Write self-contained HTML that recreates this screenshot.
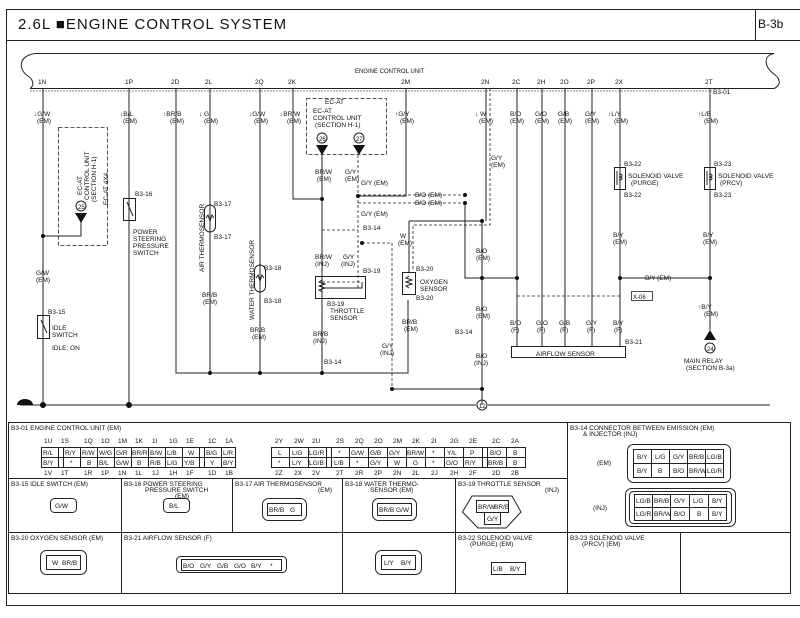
<!DOCTYPE html>
<html><head><meta charset="utf-8"><style>
html,body{margin:0;padding:0;background:#fff;}
svg{display:block;}
text{font-family:"Liberation Sans",sans-serif;font-size:6.5px;fill:#111;}
.t{font-size:7px;}
.s{font-size:6px;}
</style></head><body>
<svg width="800" height="618" viewBox="0 0 800 618" xmlns="http://www.w3.org/2000/svg">
<g fill="none" stroke="#222" stroke-width="1">
<rect x="6.5" y="9.5" width="800" height="596"/>
<line x1="6" y1="40.5" x2="800" y2="40.5"/>
<line x1="755.5" y1="9" x2="755.5" y2="40"/>
<path d="M36 53.5 H774 M36 53.5 C18 55 18 70 28 76 C34 80 34 86 30 88.5 M30 88.5 H774 M774 53.5 C762 56 765 68 774 74 C782 80 780 86 774 88.5"/>
<line x1="30" y1="91" x2="712" y2="91" stroke-dasharray="2,1" stroke="#888"/>
<path d="M43 88V405 M43 236H81V218 M129 88V405 M176 88V373H408V300 M210 88V373 M260 88V373 M293 88V199H322 M322 150V373 M406 88V196H358 M482 221V405 M465 203V278H517 M517 88V346 M542 88V346 M565 88V346 M592 88V346 M620 88V346 M620 278H710 M710 88V330 M409 221H482 M409 221V272 M486 88V221 M20 405H476 M488 405H770 M392 389H482"/>
<path d="M358 150V290 M362 243H392V389 M358 195H465 M358 203H465 M490 88V225H413V270 M517 296H620 M322 230H358 M322 282H362" stroke-dasharray="3,2" stroke-width="0.8"/>
<rect x="58.5" y="127.5" width="49" height="118" stroke-dasharray="4,2" stroke-width="0.8"/>
<rect x="306.5" y="98.5" width="80" height="56" stroke-dasharray="4,2" stroke-width="0.8"/>
<rect x="37.5" y="315.5" width="12" height="23"/>
<path d="M41 320L47 333"/>
<rect x="123.5" y="198.5" width="12" height="22"/>
<path d="M127 202L133 216"/>
<rect x="204.5" y="205" width="11" height="27" rx="5.5"/>
<path d="M206 218l2-3 2 6 2-6 2 3"/>
<rect x="254.5" y="265" width="11" height="27" rx="5.5"/>
<path d="M256 278l2-3 2 6 2-6 2 3"/>
<rect x="315.5" y="276.5" width="50" height="22"/>
<path d="M322 280l-3 2 6 2-6 2 6 2-6 2 3 2 M325 288H362V282"/>
<rect x="402.5" y="272.5" width="13" height="22"/>
<path d="M409 276l-3 2 6 2-6 2 6 2-6 2 3 2"/>
<rect x="614.5" y="167.5" width="11" height="22"/>
<path d="M617 171v14 M619 174c4 0 4 3 0 3c4 0 4 3 0 3"/>
<rect x="704.5" y="167.5" width="11" height="22"/>
<path d="M707 171v14 M709 174c4 0 4 3 0 3c4 0 4 3 0 3"/>
<rect x="511.5" y="346.5" width="114" height="11"/>
<rect x="631.5" y="291.5" width="21" height="9" stroke-width="0.8"/>
<circle cx="81" cy="206" r="5"/><circle cx="322" cy="138" r="5"/><circle cx="359" cy="138" r="5"/><circle cx="710" cy="348" r="5"/><circle cx="482" cy="405" r="5"/>
</g>
<g fill="#111">
<path d="M75 213h12l-6 10z M316 145h12l-6 10z M353 145h12l-6 10z M704 340h12l-6 -10z"/>
<circle cx="43" cy="236" r="2"/><circle cx="43" cy="405" r="3"/><circle cx="129" cy="405" r="3"/>
<circle cx="210" cy="373" r="2"/><circle cx="260" cy="373" r="2"/><circle cx="322" cy="373" r="2"/><circle cx="322" cy="199" r="2"/>
<circle cx="358" cy="196" r="2"/><circle cx="362" cy="243" r="2"/><circle cx="465" cy="195" r="2"/><circle cx="465" cy="203" r="2"/>
<circle cx="482" cy="221" r="2"/><circle cx="482" cy="278" r="2"/><circle cx="517" cy="278" r="2"/><circle cx="620" cy="278" r="2"/><circle cx="710" cy="278" r="2"/>
<circle cx="392" cy="389" r="2"/><circle cx="482" cy="389" r="2"/>
<path d="M17 405a8 6 0 0 1 16 0z"/>
</g>
<text x="18" y="29" style="font-size:15px;letter-spacing:1px">2.6L ■ENGINE CONTROL SYSTEM</text>
<text x="758" y="28" style="font-size:12px">B-3b</text>
<text x="355" y="73" class="s">ENGINE CONTROL UNIT</text>
<g class="s">
<text x="38" y="84">1N</text><text x="125" y="84">1P</text><text x="171" y="84">2D</text><text x="205" y="84">2L</text><text x="255" y="84">2Q</text><text x="288" y="84">2K</text><text x="401" y="84">2M</text><text x="481" y="84">2N</text><text x="512" y="84">2C</text><text x="537" y="84">2H</text><text x="560" y="84">2O</text><text x="587" y="84">2P</text><text x="615" y="84">2X</text><text x="705" y="84">2T</text>
<text x="713" y="94">B3-01</text>
</g>
<g>
<text x="34" y="116">↓G/W</text><text x="37" y="123">(EM)</text>
<text x="120" y="116">↓B/L</text><text x="123" y="123">(EM)</text>
<text x="163" y="116">↑BR/B</text><text x="170" y="123">(EM)</text>
<text x="199" y="116">↓ G</text><text x="204" y="123">(EM)</text>
<text x="249" y="116">↓G/W</text><text x="254" y="123">(EM)</text>
<text x="280" y="116">↓BR/W</text><text x="287" y="123">(EM)</text>
<text x="395" y="116">↑G/Y</text><text x="400" y="123">(EM)</text>
<text x="475" y="116">↓ W</text><text x="479" y="123">(EM)</text>
<text x="510" y="116">B/O</text><text x="510" y="123">(EM)</text>
<text x="535" y="116">G/O</text><text x="535" y="123">(EM)</text>
<text x="558" y="116">G/B</text><text x="558" y="123">(EM)</text>
<text x="585" y="116">G/Y</text><text x="585" y="123">(EM)</text>
<text x="608" y="116">↑L/Y</text><text x="614" y="123">(EM)</text>
<text x="698" y="116">↑L/B</text><text x="704" y="123">(EM)</text>
<text x="325" y="104">EC-AT</text>
<text x="313" y="113">EC-AT</text><text x="313" y="120">CONTROL UNIT</text><text x="315" y="127">(SECTION H-1)</text>
<text x="319" y="141" class="s">26</text><text x="356" y="141" class="s">27</text>
<text x="78" y="209" class="s">25</text><text x="707" y="351" class="s">24</text><text x="479" y="408" class="s">12</text>
<text x="315" y="174">BR/W</text><text x="317" y="181">(EM)</text>
<text x="345" y="174">G/Y</text><text x="345" y="181">(EM)</text>
<text x="361" y="185">G/Y (EM)</text><text x="361" y="216">G/Y (EM)</text>
<text x="363" y="230">B3-14</text>
<text x="415" y="197">B/O (EM)</text><text x="415" y="205">B/O (EM)</text>
<text x="491" y="160">G/Y</text><text x="491" y="167">(EM)</text>
<text x="400" y="238">W</text><text x="398" y="245">(EM)</text>
<text x="476" y="253">B/O</text><text x="476" y="260">(EM)</text>
<text x="315" y="259">BR/W</text><text x="315" y="266">(INJ)</text>
<text x="343" y="259">G/Y</text><text x="341" y="266">(INJ)</text>
<text x="363" y="273">B3-19</text><text x="327" y="306">B3-19</text>
<text x="330" y="313">THROTTLE</text><text x="330" y="320">SENSOR</text>
<text x="313" y="336">BR/B</text><text x="313" y="343">(INJ)</text><text x="324" y="364">B3-14</text>
<text x="382" y="348">G/Y</text><text x="380" y="355">(INJ)</text>
<text x="416" y="271">B3-20</text><text x="416" y="300">B3-20</text>
<text x="420" y="284">OXYGEN</text><text x="420" y="291">SENSOR</text>
<text x="402" y="324">BR/B</text><text x="404" y="331">(EM)</text>
<text x="476" y="311">B/O</text><text x="476" y="318">(EM)</text>
<text x="455" y="334">B3-14</text>
<text x="476" y="358">B/O</text><text x="474" y="365">(INJ)</text>
<text x="510" y="325">B/O</text><text x="511" y="332">(F)</text>
<text x="536" y="325">G/O</text><text x="537" y="332">(F)</text>
<text x="559" y="325">G/B</text><text x="560" y="332">(F)</text>
<text x="586" y="325">G/Y</text><text x="587" y="332">(F)</text>
<text x="613" y="325">B/Y</text><text x="614" y="332">(F)</text>
<text x="625" y="344">B3-21</text>
<text x="536" y="356">AIRFLOW SENSOR</text>
<text x="633" y="299" class="s">X-06</text>
<text x="624" y="166">B3-22</text><text x="624" y="197">B3-22</text>
<text x="628" y="178">SOLENOID VALVE</text><text x="631" y="185">(PURGE)</text>
<text x="714" y="166">B3-23</text><text x="714" y="197">B3-23</text>
<text x="718" y="178">SOLENOID VALVE</text><text x="720" y="185">(PRCV)</text>
<text x="613" y="237">B/Y</text><text x="613" y="244">(EM)</text>
<text x="703" y="237">B/Y</text><text x="703" y="244">(EM)</text>
<text x="645" y="280">B/Y (EM)</text>
<text x="698" y="309">↑B/Y</text><text x="704" y="316">(EM)</text>
<text x="684" y="363">MAIN RELAY</text><text x="686" y="370">(SECTION B-3a)</text>
<text x="135" y="196">B3-16</text>
<text x="133" y="234">POWER</text><text x="133" y="241">STEERING</text><text x="133" y="248">PRESSURE</text><text x="133" y="255">SWITCH</text>
<text x="214" y="206">B3-17</text><text x="214" y="239">B3-17</text>
<text x="264" y="270">B3-18</text><text x="264" y="303">B3-18</text>
<text x="202" y="297">BR/B</text><text x="203" y="304">(EM)</text>
<text x="250" y="332">BR/B</text><text x="252" y="339">(EM)</text>
<text x="36" y="275">G/W</text><text x="36" y="282">(EM)</text>
<text x="48" y="314">B3-15</text>
<text x="52" y="330">IDLE</text><text x="52" y="337">SWITCH</text><text x="52" y="350">IDLE: ON</text>
<text transform="translate(204,272) rotate(-90)">AIR THERMOSENSOR</text>
<text transform="translate(254,320) rotate(-90)">WATER THERMOSENSOR</text>
<text transform="translate(82,195) rotate(-90)">EC-AT</text>
<text transform="translate(89,200) rotate(-90)">CONTROL UNIT</text>
<text transform="translate(96,202) rotate(-90)">(SECTION H-1)</text>
<text transform="translate(108,205) rotate(-90)">EC-AT 4X4</text>
</g>
<g fill="none" stroke="#222" stroke-width="1">
<rect x="8.5" y="422.5" width="782" height="171"/>
<line x1="8" y1="478.5" x2="567" y2="478.5"/>
<line x1="8" y1="532.5" x2="790" y2="532.5"/>
<line x1="567.5" y1="422" x2="567.5" y2="594"/>
<line x1="121.5" y1="478" x2="121.5" y2="594"/>
<line x1="232.5" y1="478" x2="232.5" y2="532"/>
<line x1="342.5" y1="478" x2="342.5" y2="594"/>
<line x1="455.5" y1="478" x2="455.5" y2="594"/>
<line x1="680.5" y1="532" x2="680.5" y2="594"/>
<rect x="41.5" y="447.5" width="194" height="20"/><line x1="41" y1="457.5" x2="236" y2="457.5"/>
<rect x="271.5" y="447.5" width="254" height="20"/><line x1="271" y1="457.5" x2="526" y2="457.5"/>
<path d="M58.5 447v20 M63.5 447v20 M80.5 447v20 M97.5 447v20 M114.5 447v20 M131.5 447v20 M148.5 447v20 M165.5 447v20 M182.5 447v20 M199.5 447v20 M204.5 447v20 M221.5 447v20"/>
<path d="M289.5 447v20 M308.5 447v20 M326.5 447v20 M331.5 447v20 M349.5 447v20 M368.5 447v20 M387.5 447v20 M406.5 447v20 M425.5 447v20 M444.5 447v20 M463.5 447v20 M482.5 447v20 M487.5 447v20 M506.5 447v20"/>
<rect x="50.5" y="498.5" width="26" height="14" rx="4"/>
<rect x="163.5" y="498.5" width="26" height="14" rx="4"/>
<rect x="262.5" y="498.5" width="44" height="22" rx="6"/><rect x="267.5" y="503.5" width="34" height="12"/>
<rect x="372.5" y="498.5" width="44" height="22" rx="6"/><rect x="377.5" y="503.5" width="34" height="12"/>
<path d="M462.5 512 L472 496 H512 L521 512 L506 528 H478 Z"/><rect x="476.5" y="500.5" width="32" height="12"/><rect x="484.5" y="512.5" width="16" height="12"/>
<rect x="40.5" y="550.5" width="46" height="24" rx="6"/><rect x="46.5" y="555.5" width="34" height="14"/>
<rect x="176.5" y="556.5" width="110" height="16" rx="4"/><rect x="181.5" y="559.5" width="100" height="11"/>
<rect x="375.5" y="550.5" width="46" height="24" rx="6"/><rect x="381.5" y="555.5" width="34" height="14"/>
<rect x="491.5" y="562.5" width="34" height="12"/>
<rect x="627.5" y="444.5" width="103" height="38" rx="6"/>
<rect x="633.5" y="449.5" width="90" height="28"/>
<path d="M633 463.5H724 M651.5 449v28 M669.5 449v28 M687.5 449v28 M705.5 449v28"/>
<rect x="625.5" y="488.5" width="110" height="38" rx="6"/>
<rect x="629.5" y="491.5" width="102" height="32" rx="4"/>
<rect x="634.5" y="494.5" width="92" height="26"/>
<path d="M634 507.5H727 M652.5 494v26 M670.5 494v26 M689.5 494v26 M708.5 494v26"/>
</g>
<g class="s">
<text x="11" y="430">B3-01 ENGINE CONTROL UNIT (EM)</text>
<text x="44" y="443">1U</text><text x="61" y="443">1S</text><text x="84" y="443">1Q</text><text x="101" y="443">1O</text><text x="118" y="443">1M</text><text x="135" y="443">1K</text><text x="152" y="443">1I</text><text x="169" y="443">1G</text><text x="186" y="443">1E</text><text x="208" y="443">1C</text><text x="225" y="443">1A</text>
<text x="44" y="475">1V</text><text x="61" y="475">1T</text><text x="84" y="475">1R</text><text x="101" y="475">1P</text><text x="118" y="475">1N</text><text x="135" y="475">1L</text><text x="152" y="475">1J</text><text x="169" y="475">1H</text><text x="186" y="475">1F</text><text x="208" y="475">1D</text><text x="225" y="475">1B</text>
<text x="43" y="455">R/L</text><text x="65" y="455">R/Y</text><text x="82" y="455">R/W</text><text x="99" y="455">W/G</text><text x="116" y="455">G/R</text><text x="132" y="455">BR/R</text><text x="150" y="455">B/W</text><text x="167" y="455">L/B</text><text x="188" y="455">W</text><text x="206" y="455">B/G</text><text x="223" y="455">L/R</text>
<text x="43" y="465">B/Y</text><text x="70" y="465">*</text><text x="87" y="465">B</text><text x="99" y="465">B/L</text><text x="116" y="465">G/W</text><text x="137" y="465">B</text><text x="150" y="465">R/B</text><text x="167" y="465">L/G</text><text x="184" y="465">Y/B</text><text x="210" y="465">Y</text><text x="223" y="465">B/Y</text>
<text x="275" y="443">2Y</text><text x="294" y="443">2W</text><text x="312" y="443">2U</text><text x="336" y="443">2S</text><text x="355" y="443">2Q</text><text x="374" y="443">2O</text><text x="393" y="443">2M</text><text x="412" y="443">2K</text><text x="431" y="443">2I</text><text x="450" y="443">2G</text><text x="469" y="443">2E</text><text x="492" y="443">2C</text><text x="511" y="443">2A</text>
<text x="275" y="475">2Z</text><text x="294" y="475">2X</text><text x="312" y="475">2V</text><text x="336" y="475">2T</text><text x="355" y="475">2R</text><text x="374" y="475">2P</text><text x="393" y="475">2N</text><text x="412" y="475">2L</text><text x="431" y="475">2J</text><text x="450" y="475">2H</text><text x="469" y="475">2F</text><text x="492" y="475">2D</text><text x="511" y="475">2B</text>
<text x="278" y="455">L</text><text x="292" y="455">L/G</text><text x="309" y="455">LG/R</text><text x="338" y="455">*</text><text x="351" y="455">G/W</text><text x="370" y="455">G/B</text><text x="389" y="455">G/Y</text><text x="407" y="455">BR/W</text><text x="432" y="455">*</text><text x="447" y="455">Y/L</text><text x="470" y="455">P</text><text x="490" y="455">B/O</text><text x="513" y="455">B</text>
<text x="278" y="465">*</text><text x="292" y="465">L/Y</text><text x="309" y="465">LG/B</text><text x="334" y="465">L/B</text><text x="356" y="465">*</text><text x="370" y="465">G/Y</text><text x="394" y="465">W</text><text x="413" y="465">G</text><text x="432" y="465">*</text><text x="446" y="465">G/O</text><text x="465" y="465">R/Y</text><text x="488" y="465">BR/B</text><text x="513" y="465">B</text>
<text x="11" y="486">B3-15 IDLE SWITCH (EM)</text>
<text x="124" y="486">B3-16 POWER STEERING</text><text x="145" y="492">PRESSURE SWITCH</text><text x="175" y="498">(EM)</text>
<text x="235" y="486">B3-17 AIR THERMOSENSOR</text><text x="318" y="492">(EM)</text>
<text x="345" y="486">B3-18 WATER THERMO-</text><text x="370" y="492">SENSOR (EM)</text>
<text x="458" y="486">B3-19 THROTTLE SENSOR</text><text x="545" y="492">(INJ)</text>
<text x="55" y="508">G/W</text><text x="169" y="508">B/L</text>
<text x="269" y="512">BR/B</text><text x="290" y="512">G</text>
<text x="379" y="512">BR/B</text><text x="396" y="512">G/W</text>
<text x="478" y="509">BR/W</text><text x="494" y="509">BR/B</text><text x="487" y="521">G/Y</text>
<text x="11" y="540">B3-20 OXYGEN SENSOR (EM)</text>
<text x="124" y="540">B3-21 AIRFLOW SENSOR (F)</text>
<text x="458" y="540">B3-22 SOLENOID VALVE</text><text x="470" y="546">(PURGE) (EM)</text>
<text x="570" y="540">B3-23 SOLENOID VALVE</text><text x="582" y="546">(PRCV) (EM)</text>
<text x="52" y="565">W</text><text x="62" y="565">BR/B</text>
<text x="183" y="568">B/O</text><text x="200" y="568">G/Y</text><text x="217" y="568">G/B</text><text x="234" y="568">G/O</text><text x="251" y="568">B/Y</text><text x="270" y="568">*</text>
<text x="384" y="565">L/Y</text><text x="401" y="565">B/Y</text>
<text x="493" y="571">L/B</text><text x="510" y="571">B/Y</text>
<text x="570" y="430">B3-14 CONNECTOR BETWEEN EMISSION (EM)</text><text x="583" y="436">&amp; INJECTOR (INJ)</text>
<text x="597" y="465">(EM)</text><text x="593" y="510">(INJ)</text>
<text x="637" y="459">B/Y</text><text x="655" y="459">L/G</text><text x="673" y="459">G/Y</text><text x="689" y="459">BR/B</text><text x="707" y="459">LG/B</text>
<text x="637" y="473">B/Y</text><text x="658" y="473">B</text><text x="673" y="473">B/O</text><text x="689" y="473">BR/W</text><text x="707" y="473">LG/R</text>
<text x="636" y="503">LG/B</text><text x="654" y="503">BR/B</text><text x="674" y="503">G/Y</text><text x="693" y="503">L/G</text><text x="712" y="503">B/Y</text>
<text x="636" y="516">LG/R</text><text x="654" y="516">BR/W</text><text x="674" y="516">B/O</text><text x="697" y="516">B</text><text x="712" y="516">B/Y</text>
</g>
</svg>
</body></html>
